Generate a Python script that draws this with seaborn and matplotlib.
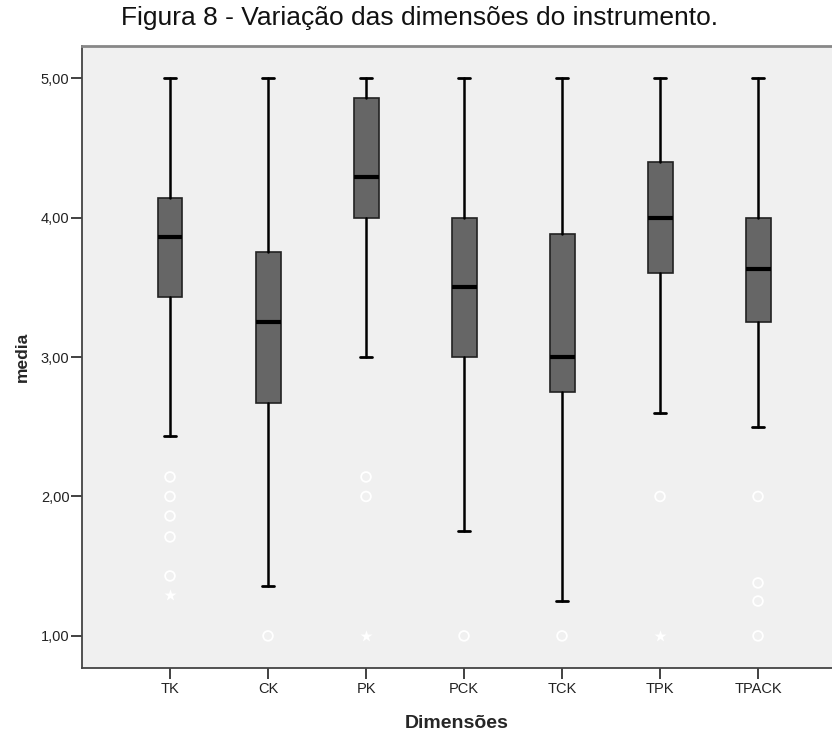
import matplotlib
matplotlib.use("Agg")
import matplotlib.pyplot as plt
import seaborn as sns
import pandas as pd

# Five-number summaries (SPSS style boxplot)
CATS = ["TK", "CK", "PK", "PCK", "TCK", "TPK", "TPACK"]
WHIS_LO = [2.43, 1.36, 3.00, 1.75, 1.25, 2.60, 2.50]
Q1 = [3.43, 2.67, 4.00, 3.00, 2.75, 3.60, 3.25]
MEDIAN = [3.86, 3.25, 4.29, 3.50, 3.00, 4.00, 3.63]
Q3 = [4.14, 3.75, 4.86, 4.00, 3.88, 4.40, 4.00]
WHIS_HI = [5.00, 5.00, 5.00, 5.00, 5.00, 5.00, 5.00]

# outliers (circles) and extremes (stars)
OUT_CAT = ["TK", "TK", "TK", "TK", "TK", "CK", "PK", "PK", "PCK", "TCK",
           "TPK", "TPACK", "TPACK", "TPACK", "TPACK"]
OUT_VAL = [2.14, 2.00, 1.86, 1.71, 1.43, 1.00, 2.14, 2.00, 1.00, 1.00,
           2.00, 2.00, 1.38, 1.25, 1.00]
EXT_CAT = ["TK", "PK", "TPK"]
EXT_VAL = [1.29, 1.00, 1.00]

sns.set_style("ticks")
plt.rcParams["font.family"] = ["Liberation Sans", "DejaVu Sans"]

fig = plt.figure(figsize=(8.32, 7.31), dpi=100)
ax = fig.add_axes([82 / 832, 1 - 668 / 731, 1 - 82 / 832, (668 - 46) / 731])
ax.set_facecolor("#f0f0f0")

stats = []
for i, c in enumerate(CATS):
    stats.append({"label": c, "whislo": WHIS_LO[i], "q1": Q1[i], "med": MEDIAN[i],
                  "q3": Q3[i], "whishi": WHIS_HI[i], "fliers": []})

ax.bxp(stats, positions=range(len(CATS)), widths=0.255, patch_artist=True,
       showfliers=False,
       boxprops=dict(facecolor="#666666", edgecolor="#222222", linewidth=1.2),
       medianprops=dict(color="black", linewidth=3),
       whiskerprops=dict(color="black", linewidth=1.8),
       capprops=dict(color="black", linewidth=2.0),
       capwidths=0.13)

out = pd.DataFrame({"dim": OUT_CAT, "media": OUT_VAL})
ext = pd.DataFrame({"dim": EXT_CAT, "media": EXT_VAL})
sns.stripplot(data=out, x="dim", y="media", order=CATS, jitter=False, ax=ax,
              marker="o", size=7, color="none", edgecolor="white", linewidth=1.3)
sns.stripplot(data=ext, x="dim", y="media", order=CATS, jitter=False, ax=ax,
              marker="*", size=9, color="white", linewidth=0)

ax.set_xlim(-0.898, 6.755)
ax.set_ylim(0.77, 5.23)
ax.set_yticks([1, 2, 3, 4, 5])
ax.set_yticklabels(["1,00", "2,00", "3,00", "4,00", "5,00"])
ax.set_xticks(range(len(CATS)))
ax.set_xticklabels(CATS)
ax.tick_params(axis="both", labelsize=10.5, length=8, width=1.3, color="#333333",
               labelcolor="#222222")
ax.tick_params(axis="y", pad=1)
ax.tick_params(axis="x", pad=2)

for s in ["left", "bottom"]:
    ax.spines[s].set_color("#444444")
    ax.spines[s].set_linewidth(1.3)
ax.spines["top"].set_color("#888888")
ax.spines["top"].set_linewidth(2)
ax.spines["right"].set_visible(False)

ax.set_xlabel("Dimensões", fontsize=14, fontweight="bold", labelpad=14)
ax.set_ylabel("media", fontsize=12.5, fontweight="bold", labelpad=8)

fig.suptitle("Figura 8 - Variação das dimensões do instrumento.", fontsize=19,
             x=0.504, y=0.992, va="top", color="#111111")

fig.savefig("out.png", dpi=100)
